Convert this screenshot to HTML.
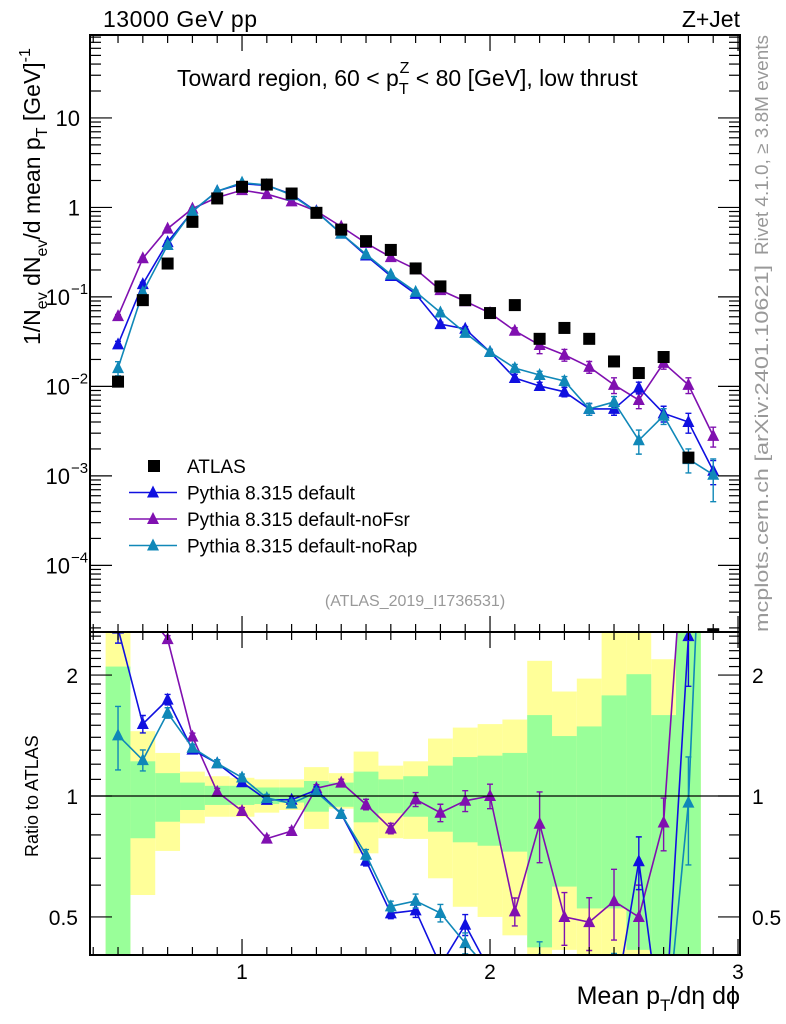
<!DOCTYPE html>
<html><head><meta charset="utf-8"><style>
html,body{margin:0;padding:0;background:#fff;overflow:hidden;width:786px;height:1024px;}
svg{display:block;font-family:"Liberation Sans",sans-serif;overflow:hidden;}
</style></head><body>
<svg id="chart" width="786" height="1024" viewBox="0 0 786 1024" xmlns="http://www.w3.org/2000/svg">
<g id="bands"></g>
<g id="series"></g>
<g id="axes"></g>
<text x="103" y="27" font-size="23" textLength="154">13000 GeV pp</text>
<text x="740" y="27" font-size="23" text-anchor="end">Z+Jet</text>
<text x="177" y="86" font-size="23">Toward region, 60 &lt; p<tspan font-size="16" dy="8">T</tspan><tspan font-size="16" dx="-9" dy="-21">Z</tspan><tspan dy="13"> &lt; 80 [GeV], low thrust</tspan></text>
<text transform="translate(40,345) rotate(-90)" font-size="23">1/N<tspan font-size="16" dy="7">ev</tspan><tspan dy="-7"> dN</tspan><tspan font-size="16" dy="7">ev</tspan><tspan dy="-7">/d mean p</tspan><tspan font-size="16" dy="7">T</tspan><tspan dy="-7">  [GeV]</tspan><tspan font-size="16" dy="-10">-1</tspan></text>
<text transform="translate(38,857) rotate(-90)" font-size="18">Ratio to ATLAS</text>
<text x="740" y="1004" font-size="25" text-anchor="end">Mean p<tspan font-size="17" dy="7">T</tspan><tspan dy="-7">/dη dϕ</tspan></text>
<text transform="translate(768,255) rotate(-90)" font-size="18" fill="#999" textLength="220" lengthAdjust="spacingAndGlyphs">Rivet 4.1.0, ≥ 3.8M events</text>
<text transform="translate(768,632) rotate(-90)" font-size="18" fill="#999" textLength="367" lengthAdjust="spacingAndGlyphs">mcplots.cern.ch [arXiv:2401.10621]</text>
<text x="415" y="606" font-size="16" fill="#999" text-anchor="middle">(ATLAS_2019_I1736531)</text>
<g id="legend"></g>
</svg>
<script>
const xCenters=[0.5,0.6,0.7,0.8,0.9,1.0,1.1,1.2,1.3,1.4,1.5,1.6,1.7,1.8,1.9,2.0,2.1,2.2,2.3,2.4,2.5,2.6,2.7,2.8,2.9];
const atlasVals=[0.0113,0.092,0.236,0.69,1.26,1.70,1.80,1.43,0.87,0.565,0.42,0.335,0.208,0.131,0.092,0.066,0.081,0.034,0.045,0.034,0.019,0.0141,0.0213,0.0016,0.000017];
const defaultVals=[0.0295,0.139,0.41,0.90,1.52,1.84,1.76,1.40,0.90,0.51,0.29,0.171,0.108,0.0496,0.044,0.0242,0.0124,0.0101,0.0087,0.0056,0.0056,0.0097,0.0050,0.0040,0.00114];
const noFsrVals=[0.061,0.27,0.58,0.97,1.29,1.56,1.41,1.17,0.91,0.61,0.40,0.278,0.204,0.119,0.0895,0.066,0.0418,0.029,0.0225,0.0165,0.0104,0.00705,0.0183,0.0104,0.0028];
const noRapVals=[0.016,0.113,0.38,0.91,1.52,1.89,1.78,1.37,0.89,0.51,0.30,0.178,0.114,0.067,0.0396,0.0242,0.016,0.0134,0.0115,0.0056,0.0067,0.0025,0.0047,0.00154,0.00103];
const defaultErr=[0.08,0.05,0.03,0.02,0.02,0.02,0.02,0.02,0.02,0.02,0.03,0.03,0.04,0.05,0.06,0.07,0.1,0.1,0.12,0.15,0.15,0.15,0.2,0.25,0.3];
const noFsrErr=[0.04,0.03,0.02,0.02,0.02,0.02,0.02,0.02,0.02,0.02,0.03,0.03,0.04,0.05,0.06,0.07,0.08,0.2,0.15,0.15,0.2,0.2,0.15,0.2,0.25];
const noRapErr=[0.18,0.06,0.03,0.02,0.02,0.02,0.02,0.02,0.02,0.02,0.03,0.03,0.04,0.05,0.06,0.07,0.1,0.1,0.12,0.15,0.15,0.3,0.2,0.3,0.5];
const greenUp=[2.10,1.22,1.14,1.08,1.06,1.06,1.05,1.05,1.09,1.08,1.15,1.10,1.12,1.19,1.25,1.26,1.28,1.59,1.41,1.49,1.78,2.01,1.59,3];
const greenLo=[0.3,0.785,0.863,0.923,0.95,0.95,0.955,0.963,0.914,0.94,0.86,0.906,0.888,0.815,0.767,0.752,0.727,0.42,0.595,0.525,0.525,0.414,0.3,0.3];
const yellowUp=[3,1.45,1.28,1.15,1.12,1.11,1.10,1.10,1.18,1.14,1.29,1.19,1.22,1.39,1.48,1.51,1.55,2.17,1.82,1.96,3,3,2.19,3];
const yellowLo=[0.3,0.567,0.73,0.855,0.888,0.888,0.909,0.923,0.828,0.93,0.72,0.785,0.782,0.624,0.53,0.50,0.45,0.3,0.414,0.3,0.3,0.3,0.3,0.3];
const binWidth=0.1;
const xTickLabels=["1","2","3"];
const ratioTickLabels=["0.5","1","2"];

const NS="http://www.w3.org/2000/svg";
const L=90,R=740,MT=35,MB=632,RT=632,RB=955;
const XMIN=0.387,XMAX=3.008;
const X=v=>L+(v-XMIN)/(XMAX-XMIN)*(R-L);
const YTOP=Math.log10(84.5),YBOT=Math.log10(1.8e-5);
const Y=v=>MT+(YTOP-Math.log10(v))/(YTOP-YBOT)*(MB-MT);
const RTOP=Math.log2(2.56),RBOT=Math.log2(0.402);
const YR=v=>RT+(RTOP-Math.log2(v))/(RTOP-RBOT)*(RB-RT);
function el(tag,attrs,parent){const e=document.createElementNS(NS,tag);for(const k in attrs)e.setAttribute(k,attrs[k]);parent.appendChild(e);return e;}
const cl=(v,a,b)=>Math.max(a,Math.min(b,v));

const bands=document.getElementById('bands');
function band(up,lo,color,name){
  for(let i=0;i<up.length;i++){
    const x0=X(xCenters[i]-binWidth/2),x1=X(xCenters[i]+binWidth/2);
    const y0=cl(YR(Math.min(up[i],2.56)),RT,RB),y1=cl(YR(Math.max(lo[i],0.402)),RT,RB);
    const r=el('rect',{x:x0,y:y0,width:x1-x0,height:y1-y0,fill:color},bands);
    
    
  }
}
band(yellowUp,yellowLo,'#ffff99','syst-band-bin');
band(greenUp,greenLo,'#99ff99','stat-band-bin');

const ax=document.getElementById('axes');
function frame(t,b,name){const r=el('rect',{x:L,y:t,width:R-L,height:b-t,fill:'none',stroke:'#000','stroke-width':2},ax);}
frame(MT,MB,'main-plot-frame');frame(RT,RB,'ratio-plot-frame');
const ul=el('line',{x1:L,x2:R,y1:YR(1),y2:YR(1),stroke:'#000','stroke-width':1.2},ax);

for(let k=4;k<=30;k++){const v=k/10;if(v<XMIN||v>XMAX)continue;const big=k%10==0,len=big?16:8,x=X(v);
  for(const [t,b] of [[MT,MB],[RT,RB]]){el('line',{x1:x,x2:x,y1:t,y2:t+len,stroke:'#000','stroke-width':1.2},ax);el('line',{x1:x,x2:x,y1:b,y2:b-len,stroke:'#000','stroke-width':1.2},ax);}}
xTickLabels.forEach(s=>{const t=el('text',{x:X(+s),y:979,'font-size':21,'text-anchor':'middle'},ax);t.textContent=s;});
for(let d=-5;d<=1;d++){for(let m=1;m<10;m++){const v=m*Math.pow(10,d);const y=Y(v);if(y<MT||y>MB)continue;const len=m==1?22:11;
  el('line',{x1:L,x2:L+len,y1:y,y2:y,stroke:'#000','stroke-width':1.2},ax);el('line',{x1:R,x2:R-len,y1:y,y2:y,stroke:'#000','stroke-width':1.2},ax);}}
[[10,"10",""],[1,"1",""],[0.1,"10","−1"],[0.01,"10","−2"],[0.001,"10","−3"],[0.0001,"10","−4"]].forEach(([v,b,e])=>{
  const t=el('text',{x:e?70:80,y:Y(v)+8,'font-size':22,'text-anchor':'end'},ax);t.textContent=b;
  
  if(e){const s=el('text',{x:71,y:Y(v)-3,'font-size':15},ax);s.textContent=e;}});
for(let k=4;k<=25;k++){const v=k/10;const y=YR(v);if(y<RT||y>RB)continue;const big=(k==5||k==10||k==20),len=big?22:11;
  el('line',{x1:L,x2:L+len,y1:y,y2:y,stroke:'#000','stroke-width':1.2},ax);el('line',{x1:R,x2:R-len,y1:y,y2:y,stroke:'#000','stroke-width':1.2},ax);}
ratioTickLabels.forEach(s=>{const y=YR(+s)+8;
  const a=el('text',{x:78,y:y,'font-size':21,'text-anchor':'end'},ax);a.textContent=s;
  const b=el('text',{x:752,y:y,'font-size':21},ax);b.textContent=s;});

const defs=el('defs',{},document.getElementById('chart'));
const c1=el('clipPath',{id:'cm'},defs);el('rect',{x:L,y:MT,width:R-L,height:MB-MT},c1);
const c2=el('clipPath',{id:'cr'},defs);el('rect',{x:L,y:RT,width:R-L,height:RB-RT},c2);

const ser=document.getElementById('series');
function tri(x,y,c,g){return el('path',{d:`M${x-6},${y+5}L${x+6},${y+5}L${x},${y-7}Z`,fill:c},g);}
function series(vals,err,color,name){
  const g=el('g',{'clip-path':'url(#cm)'},ser);
  el('polyline',{points:xCenters.map((x,i)=>X(x)+','+Y(vals[i])).join(' '),fill:'none',stroke:color,'stroke-width':1.6},g);
  xCenters.forEach((x,i)=>{const px=X(x),hi=Y(vals[i]*(1+err[i])),lo=Y(vals[i]*Math.max(0.05,1-err[i]));
    el('path',{d:`M${px},${hi}V${lo}M${px-3},${hi}H${px+3}M${px-3},${lo}H${px+3}`,stroke:color,'stroke-width':1.4,fill:'none'},g);
    const m=tri(px,Y(vals[i]),color,g);});
  const gr=el('g',{'clip-path':'url(#cr)'},ser);
  const rat=vals.map((v,i)=>v/atlasVals[i]);
  el('polyline',{points:xCenters.map((x,i)=>X(x)+','+cl(YR(rat[i]),RT-400,RB+400)).join(' '),fill:'none',stroke:color,'stroke-width':1.6},gr);
  xCenters.forEach((x,i)=>{const px=X(x),hi=YR(rat[i]*(1+err[i])),lo=YR(rat[i]*Math.max(0.05,1-err[i]));
    el('path',{d:`M${px},${hi}V${lo}M${px-3},${hi}H${px+3}M${px-3},${lo}H${px+3}`,stroke:color,'stroke-width':1.4,fill:'none'},gr);
    const m=tri(px,YR(rat[i]),color,gr);});
}
series(noFsrVals,noFsrErr,'#8010b0','pythia-noFsr');
series(defaultVals,defaultErr,'#1010e0','pythia-default');
series(noRapVals,noRapErr,'#1088b8','pythia-noRap');
const ga=el('g',{'clip-path':'url(#cm)'},ser);
xCenters.forEach((x,i)=>{const r=el('rect',{x:X(x)-6,y:Y(atlasVals[i])-6,width:12,height:12,fill:'#000'},ga);});

const lg=document.getElementById('legend');
const items=[['ATLAS',null],['Pythia 8.315 default','#1010e0'],['Pythia 8.315 default-noFsr','#8010b0'],['Pythia 8.315 default-noRap','#1088b8']];
items.forEach(([lab,c],i)=>{const y=466+i*26.5;const g=el('g',{},lg);
  if(c){el('line',{x1:129,x2:177,y1:y,y2:y,stroke:c,'stroke-width':1.6},g);tri(153,y,c,g);}else el('rect',{x:148,y:y-6,width:12,height:12,fill:'#000'},g);
  const t=el('text',{x:187,y:y+7,'font-size':19},g);t.textContent=lab;});
</script>
</body></html>
